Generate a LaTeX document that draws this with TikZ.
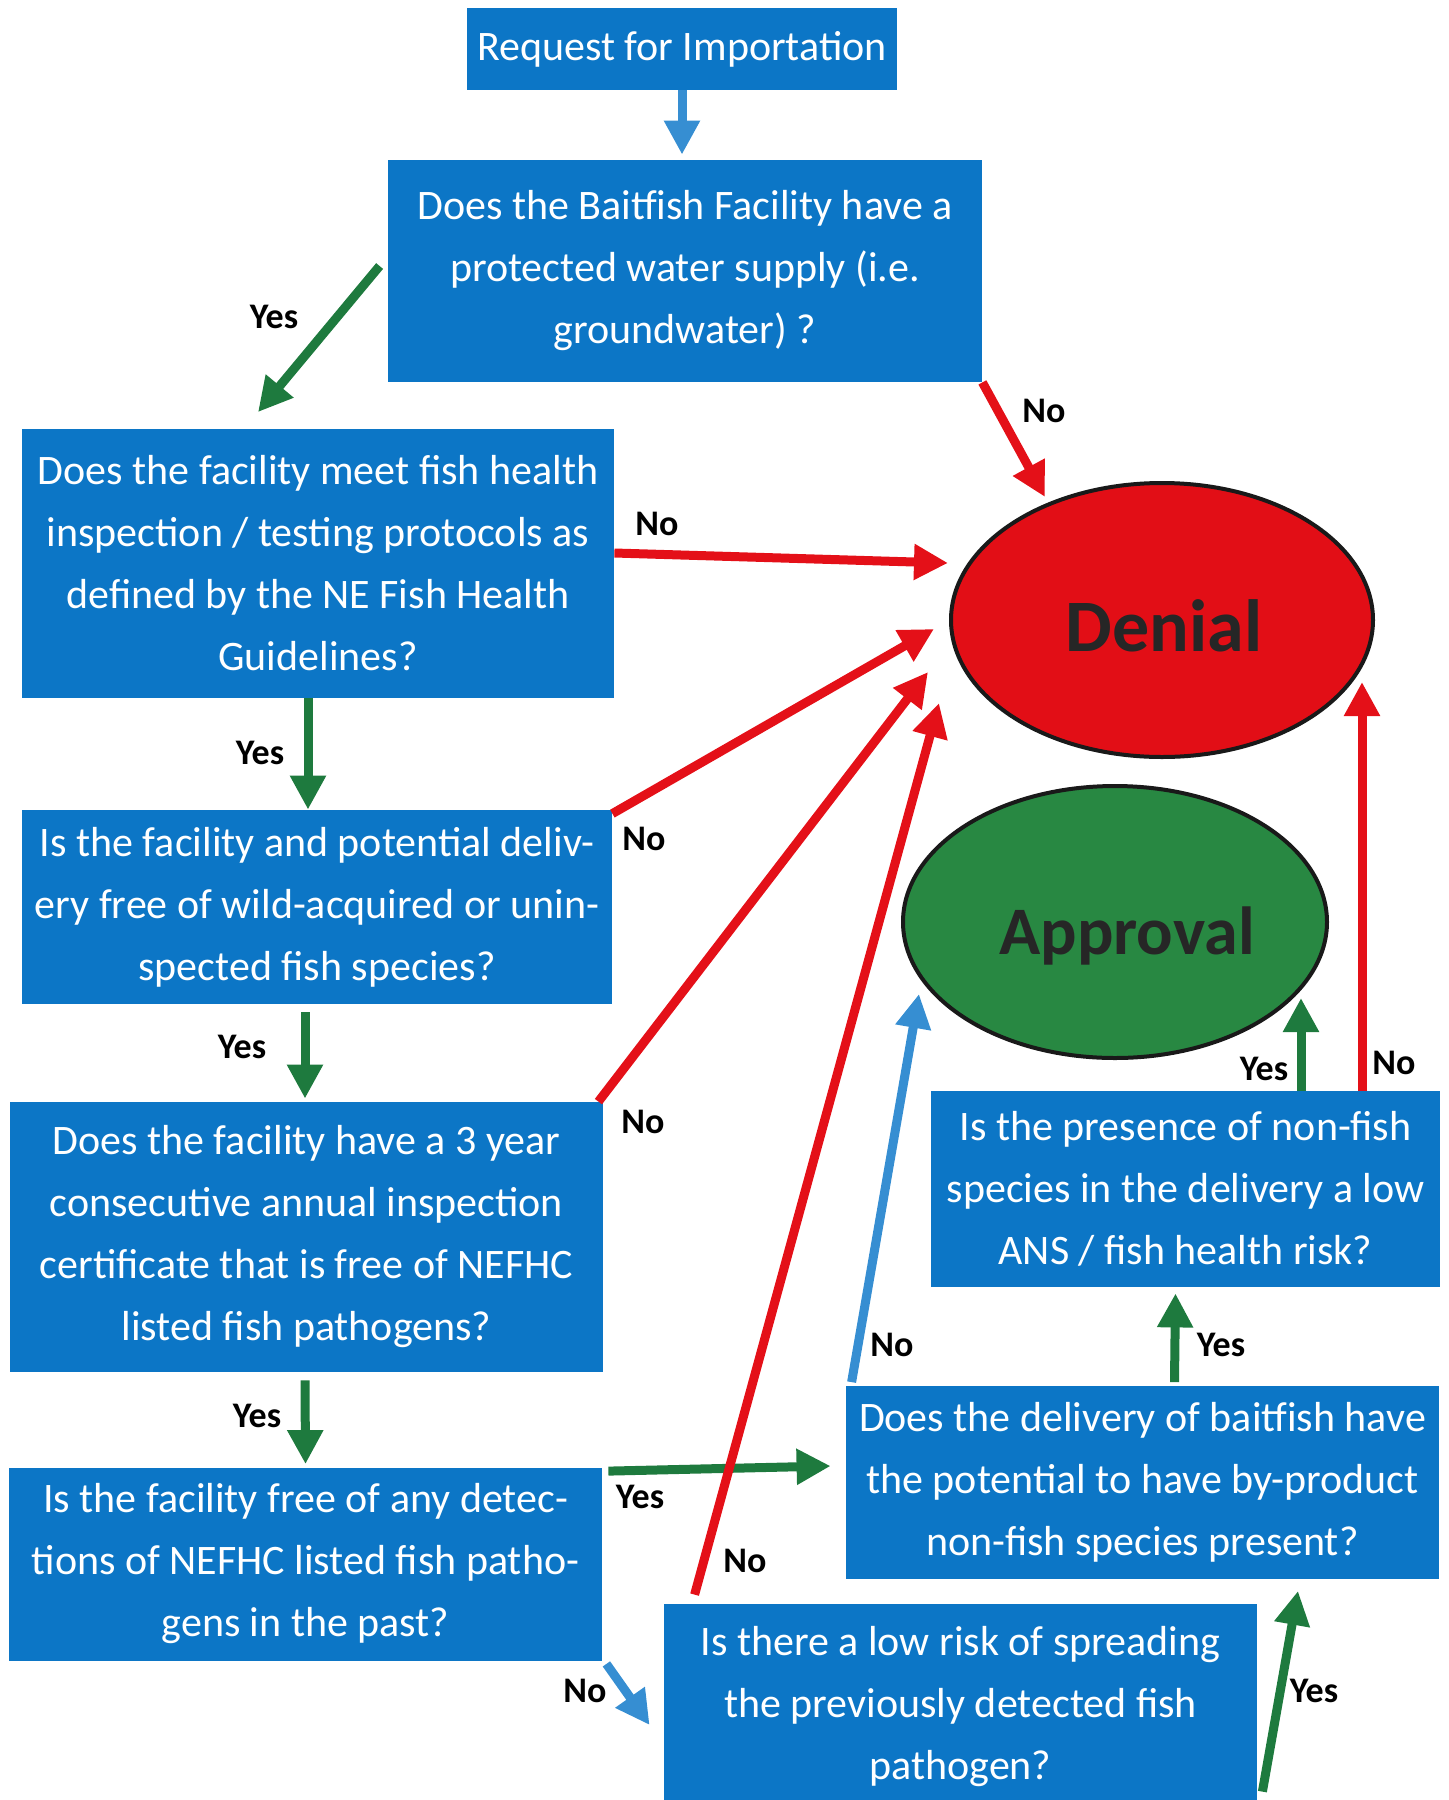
\documentclass[tikz,border=0pt]{standalone}
\usepackage{fontspec}
\setmainfont{Carlito}
\usetikzlibrary{positioning, calc, arrows.meta, shapes.geometric}
\definecolor{boxblue}{RGB}{12,118,198}
\definecolor{yesgreen}{RGB}{30,122,62}
\definecolor{nored}{RGB}{228,16,24}
\definecolor{noblue}{RGB}{54,142,210}
\definecolor{okgreen}{RGB}{40,136,66}
\definecolor{badred}{RGB}{226,14,22}

\begin{document}
\begin{tikzpicture}[x=0.5pt, y=-0.5pt,
  quest/.style={rectangle, fill=boxblue, text=white, align=center, inner sep=0pt, font=\fontsize{21}{31}\selectfont},
  result/.style={ellipse, draw=black!90, line width=2pt, inner sep=0pt},
  restext/.style={text=black!85, font=\bfseries},
  yesline/.style={draw=yesgreen, line width=4.5pt, -{Triangle[length=17pt,width=17pt]}},
  noline/.style={draw=nored, line width=4.5pt, -{Triangle[length=17pt,width=17pt]}},
  bluline/.style={draw=noblue, line width=4.5pt, -{Triangle[length=17pt,width=17pt]}},
  lab/.style={font=\fontsize{18}{20}\selectfont\bfseries}]
\useasboundingbox (0,0) rectangle (1448,1800);

% question boxes
\node (q1) [quest, minimum width=215pt, minimum height=41pt] at (682,49) {Request for Importation};
\node (q2) [quest, minimum width=297pt, minimum height=111pt] at (685,271) {Does the Baitfish Facility have a\\protected water supply (i.e.\\groundwater) ?};
\node (q3) [quest, minimum width=296pt, minimum height=134.5pt] at (318,563) {Does the facility meet fish health\\inspection / testing protocols as\\defined by the NE Fish Health\\Guidelines?};
\node (q4) [quest, minimum width=295pt, minimum height=97pt] at (317,907) {Is the facility and potential deliv-\\ery free of wild-acquired or unin-\\spected fish species?};
\node (q5) [quest, minimum width=296.5pt, minimum height=135pt] at (306.5,1237) {Does the facility have a 3 year\\consecutive annual inspection\\certificate that is free of NEFHC\\listed fish pathogens?};
\node (q6) [quest, minimum width=296.5pt, minimum height=96.5pt] at (305.5,1564) {Is the facility free of any detec-\\tions of NEFHC listed fish patho-\\gens in the past?};
\node (q7) [quest, minimum width=296.5pt, minimum height=103pt] at (960.5,1707) {Is there a low risk of spreading\\the previously detected fish\\pathogen?};
\node (q8) [quest, minimum width=296.5pt, minimum height=96.5pt] at (1142.5,1482) {Does the delivery of baitfish have\\the potential to have by-product\\non-fish species present?};
\node (q9) [quest, minimum width=254.5pt, minimum height=98pt] at (1185.5,1189) {Is the presence of non-fish\\species in the delivery a low\\ANS / fish health risk?};

% outcomes
\node (denial) [result, fill=badred, minimum width=211pt, minimum height=137pt] at (1162,620) {};
\node (approval) [result, fill=okgreen, minimum width=212pt, minimum height=136pt] at (1115,922) {};
\node (denialtxt) [restext, font=\fontsize{37}{40}\selectfont\bfseries] at ($(denial.center)+(2,6)$) {Denial};
\node (approvaltxt) [restext, font=\fontsize{34}{38}\selectfont\bfseries] at ($(approval.center)+(12,14)$) {Approval};

% connectors
\draw [bluline] (q1.south) -- ($(q2.north)+(-3,-5)$);
\draw [yesline] ($(q2.west)+(-8,-5)$) -- ($(q3.north)+(-60,-16)$);
\draw [noline] (q2.south east) -- ($(denial.center)+(-117,-123)$);
\draw [noline] ($(q3.east)+(0,-10)$) -- ($(denial.center)+(-214,-57)$);
\draw [yesline] ($(q3.south)+(-10,0)$) -- ($(q4.north)+(-9,0)$);
\draw [noline] ($(q4.north east)+(0,4)$) -- ($(denial.center)+(-228,9)$);
\draw [yesline] ($(q4.south)+(-12,8)$) -- ($(q5.north)+(-1.5,-3)$);
\draw [noline] ($(q5.north east)+(-5,0)$) -- ($(denial.center)+(-234,52)$);
\draw [yesline] ($(q5.south)+(-1.5,8)$) -- ($(q6.north)+(0,-3)$);
\draw [yesline] ($(q6.north east)+(6,4)$) -- ($(q8.west)+(-15,-16)$);
\draw [bluline] ($(q6.south east)+(4,3)$) -- ($(q7.west)+(-14,18)$);
\draw [noline] ($(q7.north west)+(31,-9)$) -- ($(denial.center)+(-223,83)$);
\draw [yesline] ($(q7.north east)+(5,188)$) -- ($(q8.south)+(155.5,12)$);
\draw [bluline] ($(q8.north west)+(6,-3)$) -- ($(approval.center)+(-196,72)$);
\draw [yesline] ($(q8.north)+(32,-3)$) -- ($(q9.south)+(-10,6)$);
\draw [yesline] ($(q9.north)+(115.5,0)$) -- ($(approval.center)+(186,76)$);
\draw [noline] ($(q9.north)+(176.5,0)$) -- ($(denial.center)+(200,62)$);

% labels
\node (l1) [lab] at (274,317) {Yes};
\node (l2) [lab] at (1044,411) {No};
\node (l3) [lab] at (657,524) {No};
\node (l4) [lab] at (260,753) {Yes};
\node (l5) [lab] at (644,839) {No};
\node (l6) [lab] at (242,1047) {Yes};
\node (l7) [lab] at (643,1122) {No};
\node (l8) [lab] at (257,1416) {Yes};
\node (l9) [lab] at (640,1497) {Yes};
\node (l10) [lab] at (585,1691) {No};
\node (l11) [lab] at (745,1561) {No};
\node (l12) [lab] at (1314,1691) {Yes};
\node (l13) [lab] at (892,1345) {No};
\node (l14) [lab] at (1221,1345) {Yes};
\node (l15) [lab] at (1264,1069) {Yes};
\node (l16) [lab] at (1394,1063) {No};
\end{tikzpicture}
\end{document}
